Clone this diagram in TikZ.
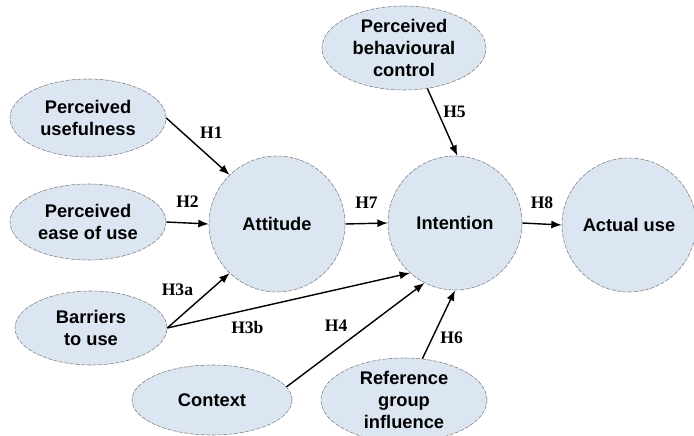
\documentclass[tikz,border=0pt]{standalone}
\usepackage{fontspec}
\setmainfont{Liberation Serif}
\setsansfont{Liberation Sans}
\usetikzlibrary{shapes.geometric,arrows.meta}
\definecolor{bubble}{RGB}{220,230,242}
\tikzset{
  latent/.style={circle, draw=gray, dash pattern=on 3pt off 1pt, fill=bubble,
    minimum size=3.4cm, font=\sffamily\bfseries\fontsize{13}{15.5}\selectfont},
  factor/.style={ellipse, draw=gray, dash pattern=on 3pt off 1pt, fill=bubble,
    align=center, inner xsep=0pt, inner ysep=-1.5mm,
    font=\sffamily\bfseries\fontsize{13}{15.5}\selectfont},
  hyp/.style={font=\bfseries\fontsize{12.5}{14}\selectfont},
  link/.style={-{Latex[length=2.6mm,width=2mm]}, line width=1pt}
}
\begin{document}
\begin{tikzpicture}
      \useasboundingbox (0,0) rectangle (17.35,10.875);
      \draw (2.2,7.925) node[factor, minimum width=3.9cm, minimum height=1.95cm] (pu) {Perceived\\usefulness};
      \draw (2.2,5.325) node[factor, minimum width=3.9cm, minimum height=1.9cm] (peou) {Perceived\\ease of use};
      \draw (2.275,2.675) node[factor, minimum width=3.8cm, minimum height=1.85cm] (bar) {Barriers\\to use};
      \draw (5.3,0.875) node[factor, minimum width=4cm, minimum height=1.75cm] (ctx) {Context};
      \draw (10.1,9.675) node[factor, minimum width=4.1cm, minimum height=2.1cm] (pbc) {Perceived\\behavioural\\control};
      \draw (10.1,0.875) node[factor, minimum width=4.15cm, minimum height=2.1cm] (rgi) {Reference\\group\\influence};
      \draw (6.925,5.275) node[latent] (att) {Attitude};
      \draw (11.375,5.3) node[latent, minimum size=3.35cm] (int) {Intention};
      \draw (15.725,5.25) node[latent, minimum size=3.35cm] (use) {Actual use};
      \draw[link] (pu.east) -- node[hyp, pos=0.45, above right] {H1} (att.134);
      \draw[link] (peou.east) -- node[hyp, above=2.5mm] {H2} (att.west);
      \draw[link] (bar.east) -- node[hyp, pos=0.5, above left] {H3a} (att.226);
      \draw[link] (bar.east) -- node[hyp, pos=0.33, below=1.5mm] {H3b} (int.228);
      \draw[link] (ctx.10) -- node[hyp, pos=0.48, above left] {H4} (int.243);
      \draw[link] (pbc.300) -- node[hyp, pos=0.35, right] {H5} (int.88);
      \draw[link] (rgi.66) -- node[hyp, pos=0.3, right=2pt] {H6} (int.south);
      \draw[link] (att.east) -- node[hyp, above=2.5mm] {H7} (int.west);
      \draw[link] (int.east) -- node[hyp, above=2.5mm] {H8} (use.west);
    \end{tikzpicture}
\end{document}
